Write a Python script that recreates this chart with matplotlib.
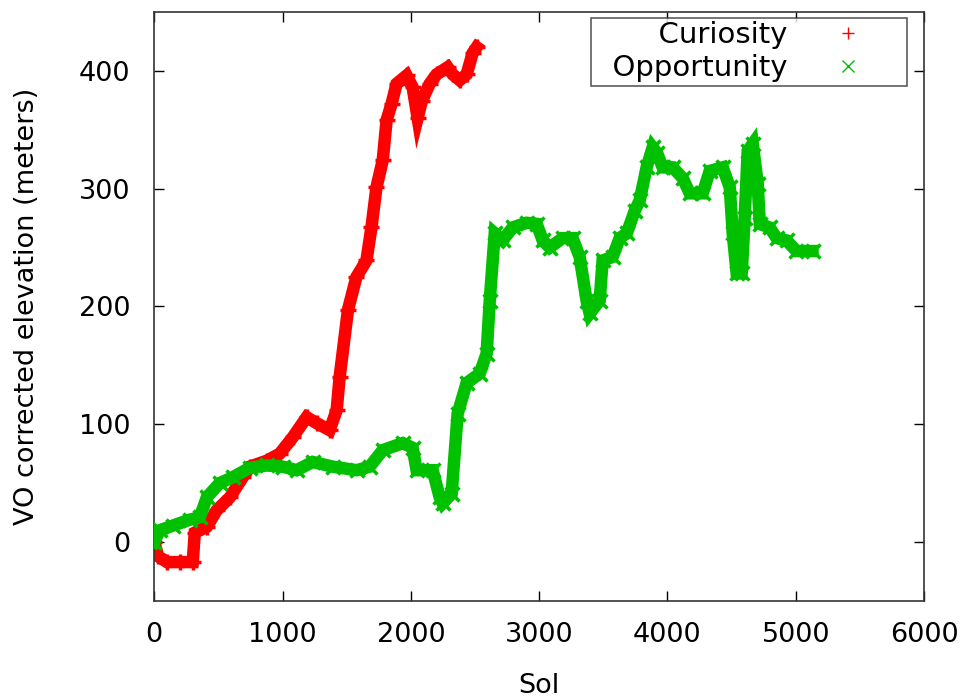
import matplotlib
matplotlib.use('Agg')
from matplotlib import pyplot as plt
from matplotlib.lines import Line2D

# Curiosity (sol, elevation)
cur_sol = [0, 30, 100, 200, 300, 316, 410, 487, 590, 690, 745, 876, 978, 1080, 1188, 1265,
           1367, 1422, 1445, 1510, 1576, 1654, 1693, 1732, 1781, 1811, 1850, 1889, 1967,
           2014, 2053, 2085, 2147, 2201, 2287, 2326, 2381, 2435, 2482, 2513]
cur_elev = [0, -12, -17, -17, -17, 8, 13, 27, 38, 55, 64, 69, 75, 89, 106, 101,
            95, 112, 140, 197, 225, 239, 267, 301, 324, 358, 372, 389, 396,
            386, 360, 374, 389, 397, 403, 397, 392, 397, 415, 420]

# Opportunity (sol, elevation)
opp_sol = [0, 43, 145, 277, 355, 410, 510, 612, 744, 877, 1001, 1110, 1235, 1391, 1578,
           1679, 1781, 1937, 2014, 2045, 2170, 2225, 2248, 2318, 2365, 2435, 2537, 2591,
           2615, 2654, 2716, 2794, 2903, 2981, 3028, 3082, 3183, 3261, 3316, 3370, 3394,
           3472, 3495, 3573, 3628, 3683, 3745, 3784, 3838, 3885, 3920, 3963, 4041, 4119,
           4174, 4275, 4330, 4431, 4486, 4509, 4540, 4579, 4602, 4626, 4665, 4704, 4720,
           4797, 4851, 4929, 5006, 5131]
opp_elev = [0, 10, 14, 19, 21, 38, 50, 55, 63, 65, 64, 61, 68, 64, 61,
            64, 78, 84, 80, 61, 61, 38, 33, 41, 109, 135, 143, 160,
            205, 262, 256, 267, 271, 270, 256, 250, 258, 258, 242, 205, 194,
            205, 239, 242, 258, 262, 281, 290, 318, 335, 330, 318, 318, 309,
            296, 296, 315, 318, 301, 262, 228, 228, 275, 332, 338, 304, 270,
            267, 258, 256, 247, 247]

red = '#ff0000'
green = '#00c000'
FS = 19.5

fig = plt.figure(figsize=(9.64, 6.98), dpi=100)
ax = fig.add_axes([0.160, 0.139, 0.7985, 0.844])

# толстая полоса как в gnuplot (много точек подряд)
ax.plot(cur_sol, cur_elev, color=red, lw=9, solid_joinstyle='miter', zorder=2)
ax.plot(cur_sol, cur_elev, ls='none', marker='+', ms=12, mew=2.5, color=red, zorder=2)
ax.plot(opp_sol, opp_elev, color=green, lw=9, solid_joinstyle='miter', zorder=3)
ax.plot(opp_sol, opp_elev, ls='none', marker='x', ms=10, mew=2.5, color=green, zorder=3)

ax.set_xlim(0, 6000)
ax.set_ylim(-50, 450)
ax.set_xticks([0, 1000, 2000, 3000, 4000, 5000, 6000])
ax.set_yticks([0, 100, 200, 300, 400])
ax.tick_params(direction='in', top=True, right=True, length=7, width=1,
               labelsize=FS)
ax.tick_params(axis='y', pad=17)
ax.tick_params(axis='x', pad=15)
for s in ax.spines.values():
    s.set_linewidth(1.2)
    s.set_color('#333333')

ax.set_xlabel('Sol', fontsize=FS, labelpad=18)
ax.set_ylabel('VO corrected elevation (meters)', fontsize=FS, labelpad=28)

# легенда как в gnuplot: текст справа налево, маркер справа
handles = [Line2D([], [], ls='none', marker='+', ms=9, mew=1, color=red),
           Line2D([], [], ls='none', marker='x', ms=8, mew=1, color=green)]
leg = ax.legend(handles, ['  Curiosity', '  Opportunity'], loc='upper right',
                bbox_to_anchor=(0.978, 0.990), markerfirst=False, fontsize=21,
                frameon=True, fancybox=False, borderpad=0.12, labelspacing=0.17,
                handletextpad=0.17, borderaxespad=0, handlelength=3.8)
leg.get_frame().set_edgecolor('#333333')
leg.get_frame().set_linewidth(1.2)
for t in leg.get_texts():
    t.set_ha('right')

fig.savefig('out.png', dpi=100)
